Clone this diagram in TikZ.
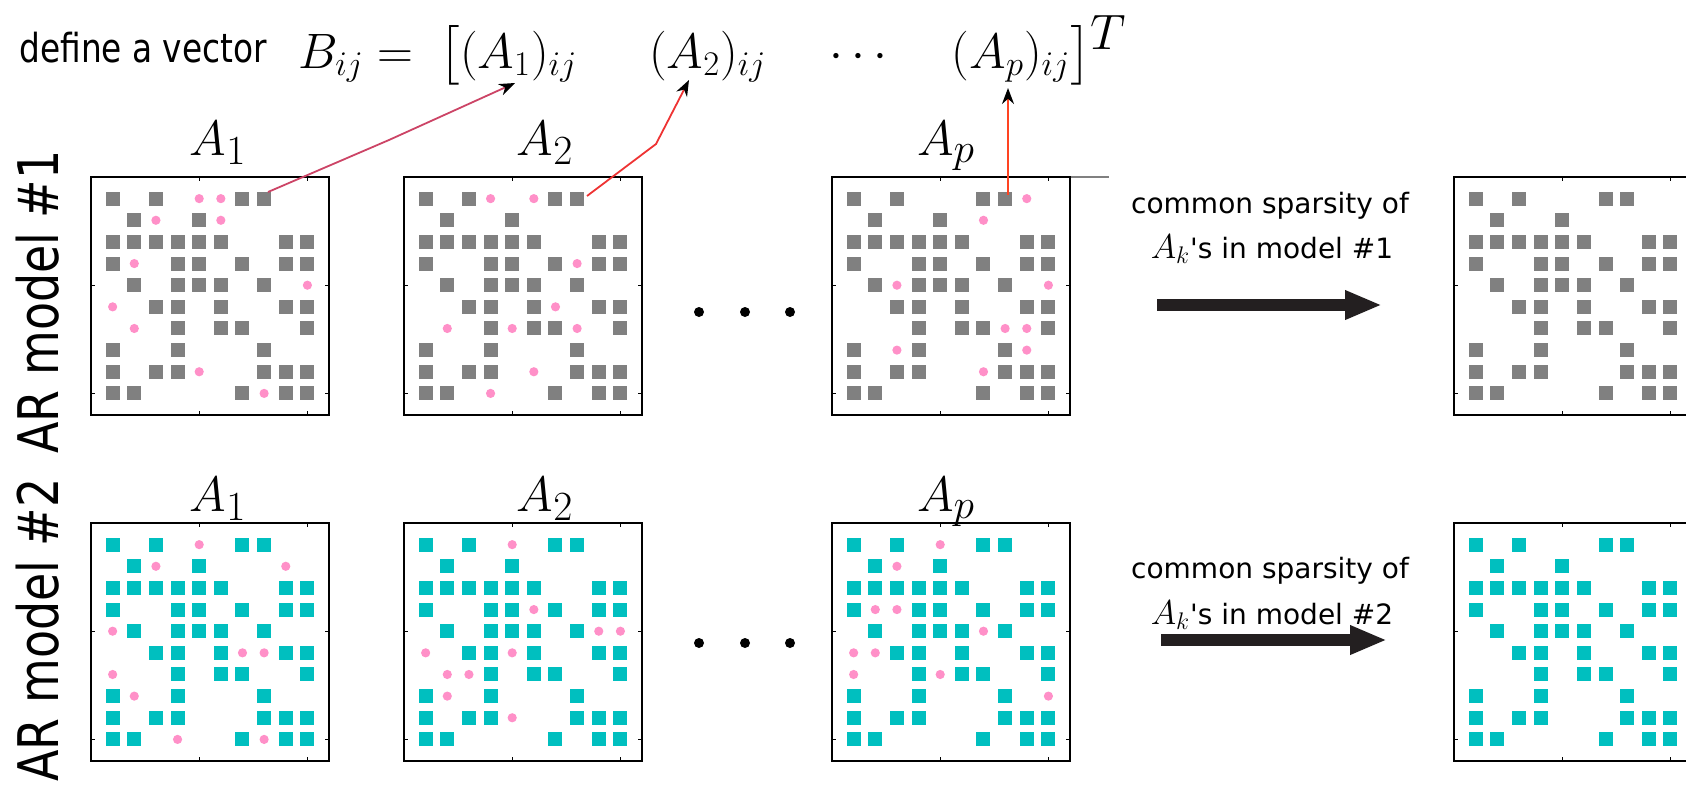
\documentclass[tikz,border=0pt]{standalone}
\usepackage{amsmath}
\usepackage{fontspec}
\usepackage{tikz}
\usetikzlibrary{arrows.meta}
\newfontfamily\sidefont{DejaVu Sans}[FakeStretch=0.82]
\newfontfamily\notefont{DejaVu Sans}
\definecolor{sqgray}{HTML}{808080}
\definecolor{sqcyan}{HTML}{00BFBF}
\definecolor{dotpink}{HTML}{FF90C8}
\definecolor{lnka}{HTML}{CC4466}
\definecolor{lnkb}{HTML}{EE3333}
\definecolor{lnkc}{HTML}{FF4422}
\definecolor{arrblk}{HTML}{231F20}
% one 10x10 coefficient pattern: left, top, colour
\newcommand{\sparsemat}[3]{%
  \foreach \r/\cl in {1/{1,3,7,8},2/{2,5},3/{1,2,3,4,5,6,9,10},4/{1,4,5,7,9,10},
      5/{2,4,5,6,8},6/{3,4,6,9,10},7/{4,6,7,10},8/{1,4,8},9/{1,3,4,8,9,10},10/{1,2,7,9,10}}
    {\foreach \c in \cl {\fill[#3] ({#1+\c*21.64-7},{#2+\r*21.64-7}) rectangle +(14,14);}}
  \draw[line width=1pt] (#1,#2) rectangle +(238,238);
  \foreach \k in {5,10} {
    \draw[line width=0.6pt] ({#1+\k*21.64},#2) -- +(0,4);
    \draw[line width=0.6pt] ({#1+\k*21.64},{#2+238}) -- +(0,-4);
    \draw[line width=0.6pt] (#1,{#2+\k*21.64}) -- +(4,0);
    \draw[line width=0.6pt] ({#1+238},{#2+\k*21.64}) -- +(-4,0);
  }}
\newcommand{\pinkdots}[3]{%
  \foreach \r/\c in {#3} {\fill[dotpink] ({#1+\c*21.64},{#2+\r*21.64}) circle[radius=2.3pt];}}

\begin{document}
\begin{tikzpicture}[x=0.5pt,y=-0.5pt,>=Stealth,
    title/.style={font=\fontsize{28}{32}\selectfont,anchor=base,inner sep=0pt},
    side/.style={font=\sidefont\fontsize{28}{32}\selectfont,rotate=90,anchor=base,inner sep=0pt},
    note/.style={font=\notefont\fontsize{14}{17}\selectfont,anchor=base,inner sep=0pt},
    link/.style={line width=0.9pt,-{Stealth[color=black,length=8pt,width=6pt]}},
    bigarrow/.style={arrblk,line width=5.7pt,-{Triangle[length=18.5pt,width=13.5pt]}}]
  \useasboundingbox (0,0) rectangle (1686,787);
  % header
  \node[font=\sidefont\fontsize{20}{24}\selectfont,anchor=base west,inner sep=0pt] (defn) at (19,62) {define a vector};
  \node[font=\fontsize{25}{30}\selectfont,anchor=base west,inner sep=0pt] (vecB) at (298,68)
    {$B_{ij} =\hspace{6pt} \bigl[(A_1)_{ij}\hspace{36pt}(A_2)_{ij}\hspace{27.5pt}\cdots\hspace{28pt}(A_p)_{ij}\bigr]^{\raisebox{-5.4pt}{$\textstyle T$}}$};
  % side labels
  \node[side] (ar1) at (58,302) {AR model \#1};
  \node[side] (ar2) at (58,630) {AR model \#2};
  % model 1
  \sparsemat{91}{177}{sqgray}
  \pinkdots{91}{177}{1/5,1/6,2/3,2/6,4/2,5/10,6/1,7/2,9/5,10/8}
  \sparsemat{404}{177}{sqgray}
  \pinkdots{404}{177}{1/4,1/6,4/8,6/7,7/2,7/5,7/8,9/6,10/4}
  \sparsemat{832}{177}{sqgray}
  \pinkdots{832}{177}{1/9,2/7,5/3,5/10,7/8,7/9,8/3,8/9,9/7}
  \sparsemat{1454}{177}{sqgray}
  \node[title] (t11) at (218,155) {$A_1$};
  \node[title] (t12) at (545,155) {$A_2$};
  \node[title] (t1p) at (946,155) {$A_p$};
  \foreach \x in {699,745,790} \fill (\x,312) circle[radius=2.5pt];
  % model 2
  \sparsemat{91}{523}{sqcyan}
  \pinkdots{91}{523}{1/5,2/3,2/9,5/1,6/7,6/8,7/1,8/2,10/4,10/8}
  \sparsemat{404}{523}{sqcyan}
  \pinkdots{404}{523}{1/5,4/6,5/9,5/10,6/1,6/5,7/2,7/3,8/2,9/5}
  \sparsemat{832}{523}{sqcyan}
  \pinkdots{832}{523}{1/5,2/3,4/2,4/3,5/7,6/1,6/2,7/1,7/5,8/10}
  \sparsemat{1454}{523}{sqcyan}
  \node[title] (t21) at (218,511) {$A_1$};
  \node[title] (t22) at (545,511) {$A_2$};
  \node[title] (t2p) at (946,511) {$A_p$};
  \foreach \x in {699,745,790} \fill (\x,643) circle[radius=2.5pt];
  % entries picked into B_ij
  \coordinate (e1) at (268,192);
  \coordinate (k1) at (389,140);
  \coordinate (h1) at (515,83);
  \coordinate (e2) at (587,196);
  \coordinate (k2) at (656,144);
  \coordinate (h2) at (689,80);
  \coordinate (e3) at (1008,195);
  \coordinate (h3) at (1008,88);
  \draw[link,lnka] (e1) -- (k1) -- (h1);
  \draw[link,lnkb] (e2) -- (k2) -- (h2);
  \draw[link,lnkc] (e3) -- (h3);
  \coordinate (g1) at (1071,177);
  \coordinate (g2) at (1109,177);
  \draw[gray,line width=0.6pt] (g1) -- (g2);
  % common sparsity
  \node[note] (cs1) at (1270,213) {common sparsity of};
  \node[note] (ak1) at (1272,258) {{\fontsize{18}{20}\selectfont$A_k$}'s in model \#1};
  \node[note] (cs2) at (1270,578) {common sparsity of};
  \node[note] (ak2) at (1272,624) {{\fontsize{18}{20}\selectfont$A_k$}'s in model \#2};
  \coordinate (s1) at (1157,305);
  \coordinate (f1) at (1382,305);
  \coordinate (s2) at (1161,640);
  \coordinate (f2) at (1387,640);
  \draw[bigarrow] (s1) -- (f1);
  \draw[bigarrow] (s2) -- (f2);
\end{tikzpicture}
\end{document}
